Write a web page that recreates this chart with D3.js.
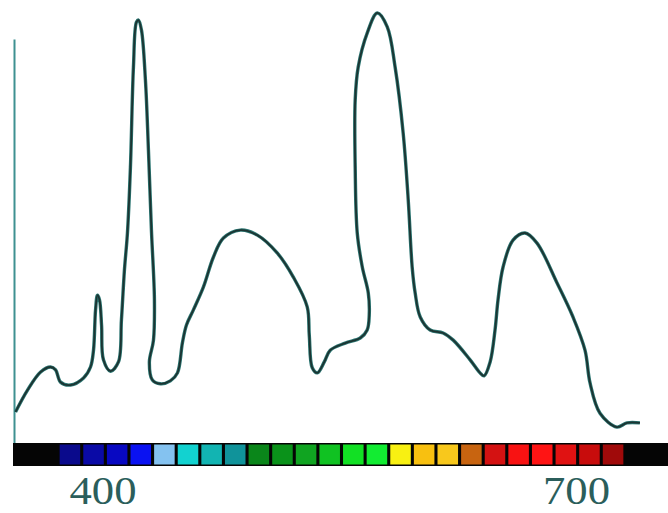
<!DOCTYPE html>
<html>
<head>
<meta charset="utf-8">
<script src="https://cdn.jsdelivr.net/npm/d3@7"></script>
<style>
  body { margin: 0; background: #fff; }
  svg { display: block; }
</style>
</head>
<body>
<svg id="chart" width="668" height="513"></svg>
<script>

// spectrum trace (wavelength nm, relative intensity)
var wavelength = [344.9, 352.5, 360.8, 367.1, 370.3, 373.4, 379.7, 388.0, 392.4, 394.3,
  395.6, 396.8, 398.1, 399.4, 400.6, 405.1, 410.1, 412.0, 413.9, 415.8,
  417.7, 419.6, 421.5, 422.8, 424.7, 427.2, 429.1, 431.0, 432.9, 432.3,
  429.7, 431.6, 436.7, 443.0, 447.5, 450.6, 453.2, 457.6, 463.9, 470.3,
  476.6, 487.3, 498.1, 510.8, 520.9, 529.7, 531.0, 532.9, 536.1, 540.5,
  544.3, 553.8, 563.3, 567.7, 569.0, 568.4, 564.6, 561.4, 560.1, 560.1,
  562.0, 567.7, 574.1, 580.4, 585.4, 590.5, 593.7, 596.2, 598.1, 601.3,
  607.6, 615.8, 622.2, 632.9, 639.2, 641.8, 645.6, 648.7, 650.6, 653.8,
  660.1, 667.7, 675.3, 688.0, 698.1, 705.7, 708.9, 715.2, 725.9, 732.3, 740.5];
var intensity = [4.3, 9.5, 13.8, 15.0, 14.3, 11.4, 10.7, 12.4, 15.0, 19.0,
  28.6, 32.1, 31.0, 25.0, 16.7, 14.0, 16.2, 26.2, 38.1, 46.9,
  62.6, 86.4, 97.1, 97.6, 95.2, 83.3, 66.7, 47.6, 31.0, 21.4,
  16.2, 11.9, 11.0, 11.7, 13.6, 20.7, 25.0, 28.6, 34.0, 41.2,
  45.7, 47.6, 46.4, 42.1, 36.4, 29.3, 22.6, 14.8, 13.6, 16.2,
  19.0, 20.7, 21.9, 23.8, 27.4, 32.6, 38.8, 46.9, 62.6, 78.6,
  86.4, 94.5, 99.3, 96.0, 86.4, 70.7, 54.8, 38.8, 32.6, 26.9,
  23.8, 23.1, 21.4, 16.7, 13.6, 12.9, 16.2, 23.8, 31.0, 38.8,
  45.2, 46.9, 44.5, 35.0, 26.9, 19.0, 11.2, 4.0, 0.7, 1.7, 1.7];

// colour strip squares, violet end to red end
var bandColors = ["#0a0a8c", "#0a0aa6", "#0808c2", "#0a12f2", "#84c2f0", "#12d2d0",
  "#12b4b2", "#10939a", "#0a861a", "#0a921a", "#10a421", "#10c222",
  "#12e024", "#12ec32", "#f8f012", "#f8c010", "#f8c81c", "#c86410",
  "#d41212", "#f81212", "#ff1414", "#e01212", "#c80c0c", "#a00a0a"];

var ticks = [400, 700];
var yTop = 93;   // top of the vertical axis line

var svg = d3.select("#chart");

var x = d3.scaleLinear().domain([400, 700]).range([102.5, 576]);
var y = d3.scaleLinear().domain([0, 100]).range([430, 10]);

var barTop = 443, barH = 23;

// vertical axis line
svg.append("line")
    .attr("x1", 14.5).attr("x2", 14.5)
    .attr("y1", y(yTop)).attr("y2", barTop)
    .attr("stroke", "#3f9191")
    .attr("stroke-width", 2);

// colour strip
svg.append("rect")
    .attr("x", 13).attr("y", barTop)
    .attr("width", 668 - 13).attr("height", barH)
    .attr("fill", "#050505");

var band = d3.scaleBand()
    .domain(d3.range(bandColors.length))
    .range([58, 625])
    .paddingInner(0.13)
    .paddingOuter(0.07);

svg.append("g").selectAll("rect")
    .data(bandColors)
    .enter()
    .append("rect")
    .attr("x", (d, i) => band(i))
    .attr("y", barTop + 1.5)
    .attr("width", band.bandwidth())
    .attr("height", barH - 3)
    .attr("fill", d => d);

// wavelength labels (slightly wide glyphs like the scan)
svg.append("g").selectAll("text")
    .data(ticks)
    .enter()
    .append("text")
    .attr("x", d => x(d) - 33)
    .attr("y", 504)
    .attr("textLength", 67)
    .attr("lengthAdjust", "spacingAndGlyphs")
    .attr("font-family", "Liberation Serif, serif")
    .attr("font-size", 39)
    .attr("fill", "#2b5e5b")
    .text(d => d);

// spectrum curve
var pts = wavelength.map((w, i) => [w, intensity[i]]);
var line = d3.line()
    .x(d => x(d[0]))
    .y(d => y(d[1]))
    .curve(d3.curveCatmullRom.alpha(0.5));

svg.append("path")
    .datum(pts)
    .attr("d", line)
    .attr("fill", "none")
    .attr("stroke", "#2a7470")
    .attr("stroke-width", 3.4)
    .attr("stroke-linejoin", "round");
svg.append("path")
    .datum(pts)
    .attr("d", line)
    .attr("fill", "none")
    .attr("stroke", "#1c3432")
    .attr("stroke-width", 1.8)
    .attr("stroke-linejoin", "round");

</script>
</body>
</html>
